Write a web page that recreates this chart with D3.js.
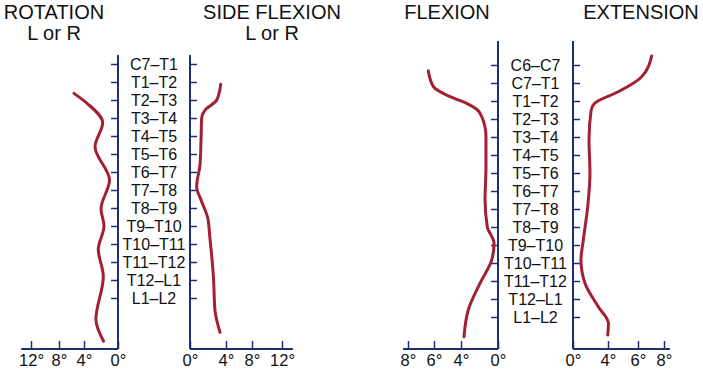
<!DOCTYPE html>
<html>
<head>
<meta charset="utf-8">
<script src="https://cdn.jsdelivr.net/npm/d3@7"></script>
<style>
  html, body { margin: 0; padding: 0; background: #fff; }
  svg { display: block; font-family: "Liberation Sans", Arial, Helvetica, sans-serif; }
</style>
</head>
<body>
<svg id="chart" width="703" height="370"></svg>
<script>
// ---------- DATA ----------
const levelsLeft = ["C7–T1","T1–T2","T2–T3","T3–T4","T4–T5","T5–T6","T6–T7","T7–T8","T8–T9","T9–T10","T10–T11","T11–T12","T12–L1","L1–L2"];
const levelsRight = ["C6–C7","C7–T1","T1–T2","T2–T3","T3–T4","T4–T5","T5–T6","T6–T7","T7–T8","T8–T9","T9–T10","T10–T11","T11–T12","T12–L1","L1–L2"];

const ticksLeftPanel = [0, 4, 8, 12];
const ticksRightPanel = [0, 4, 6, 8];
const tickLabelsLeftPanel = ["0°", "4°", "8°", "12°"];
const tickLabelsRightPanel = ["0°", "4°", "6°", "8°"];

// [level position (0 = first level label), degrees]
const rotation = [[1.63,5.6],[2.2,3.6],[3.25,1.8],[4.6,2.7],[6.45,1.0],[8.05,2.0],[9.0,1.65],[10.3,2.32],[11.8,1.73],[14.2,2.6],[15.4,1.7]];
const sideFlexion = [[1.13,3.41],[2.0,2.97],[2.56,1.67],[3.0,1.3],[4.3,1.22],[5.6,1.11],[6.8,0.74],[7.65,1.3],[8.55,1.97],[9.6,2.2],[11.8,2.6],[13.7,2.78],[14.9,3.33]];
const flexion = [[0.32,6.44],[1.2,6.05],[1.76,4.81],[2.13,3.39],[2.46,2.3],[2.87,1.76],[3.43,1.41],[3.98,1.3],[5.65,1.3],[7.5,1.4],[8.98,1.16],[9.9,0.43],[10.83,0.68],[12.13,1.95],[13.6,3.21],[15.1,3.68]];
const extension = [[-0.5,7.05],[0.65,6.28],[1.57,4.47],[1.99,2.9],[2.17,2.4],[2.55,2.06],[4.17,1.83],[6.02,1.94],[7.87,1.68],[9.72,1.18],[10.83,0.91],[12.13,1.37],[13.43,2.89],[14.35,4.03],[15.0,3.97]];

// ---------- LAYOUT ----------
const navy = "#1f2d74";
const red = "#a31f33";
const svg = d3.select("#chart");
svg.append("rect").attr("width", 703).attr("height", 370).attr("fill", "#fff");

const baseY = 349;

function panel(cfg) {
  const g = svg.append("g");
  const y = d3.scaleLinear().domain([0, cfg.levels.length - 1]).range(cfg.yRange);
  const xL = d3.scaleLinear().domain(cfg.ticks).range(cfg.xLeftRange);
  const xR = d3.scaleLinear().domain(cfg.ticks).range(cfg.xRightRange);
  const axL = xL(0), axR = xR(0);

  // vertical axes
  g.append("line").attr("x1", axL).attr("x2", axL).attr("y1", y(cfg.topIdx)).attr("y2", baseY)
    .attr("stroke", navy).attr("stroke-width", 2);
  g.append("line").attr("x1", axR).attr("x2", axR).attr("y1", y(cfg.topIdx)).attr("y2", baseY)
    .attr("stroke", navy).attr("stroke-width", 2);

  // level ticks
  const idx = d3.range(cfg.levels.length);
  const la = g.append("g").attr("transform", `translate(${axL},0)`).attr("color", navy)
    .call(d3.axisLeft(y).tickValues(idx).tickSize(7).tickFormat(""));
  la.select(".domain").remove();
  la.selectAll("line").attr("stroke-width", 1.5);
  const ra = g.append("g").attr("transform", `translate(${axR},0)`).attr("color", navy)
    .call(d3.axisRight(y).tickValues(idx).tickSize(7).tickFormat(""));
  ra.select(".domain").remove();
  ra.selectAll("line").attr("stroke-width", 1.5);

  // level labels
  g.selectAll("text.lvl").data(cfg.levels).join("text").attr("class", "lvl")
    .attr("x", (axL + axR) / 2).attr("y", (d, i) => y(i)).attr("dy", "0.36em")
    .attr("text-anchor", "middle").attr("font-size", 16).attr("fill", "#111")
    .text(d => d);

  // bottom axes
  [[xL, cfg.extL], [xR, cfg.extR]].forEach(([x, ext]) => {
    g.append("line").attr("x1", x(0)).attr("x2", x(ext)).attr("y1", baseY).attr("y2", baseY)
      .attr("stroke", navy).attr("stroke-width", 2);
    const ba = g.append("g").attr("transform", `translate(0,${baseY})`).attr("color", navy)
      .call(d3.axisBottom(x).tickValues(cfg.ticks).tickSize(-8).tickPadding(5)
        .tickFormat((d, i) => cfg.tickLabels[i]));
    ba.select(".domain").remove();
    ba.selectAll("line").attr("stroke-width", 1.5);
    ba.selectAll("text").attr("fill", "#111").attr("font-size", 16.5)
      .attr("font-family", "Liberation Sans, Arial, sans-serif");
  });

  // curves
  const lineL = d3.line().x(d => xL(d[1])).y(d => y(d[0])).curve(d3.curveMonotoneY);
  const lineR = d3.line().x(d => xR(d[1])).y(d => y(d[0])).curve(d3.curveMonotoneY);
  g.append("path").attr("d", lineL(cfg.leftData)).attr("fill", "none")
    .attr("stroke", red).attr("stroke-width", 3).attr("stroke-linecap", "round");
  g.append("path").attr("d", lineR(cfg.rightData)).attr("fill", "none")
    .attr("stroke", red).attr("stroke-width", 3).attr("stroke-linecap", "round");

  // titles
  cfg.titles.forEach(t => {
    t.lines.forEach((s, i) => {
      g.append("text").attr("x", t.x).attr("y", 18.5 + i * 21.5).attr("text-anchor", "middle")
        .attr("font-size", 20).attr("fill", "#111").text(s);
    });
  });
}

panel({
  levels: levelsLeft,
  yRange: [64, 298],
  topIdx: -0.5,
  ticks: ticksLeftPanel,
  tickLabels: tickLabelsLeftPanel,
  xLeftRange: [118, 84, 59, 31],
  xRightRange: [190, 226, 252, 282],
  extL: 13.4, extR: 13.45,
  leftData: rotation,
  rightData: sideFlexion,
  titles: [{x: 54, lines: ["ROTATION", "L or R"]}, {x: 272, lines: ["SIDE FLEXION", "L or R"]}]
});

panel({
  levels: levelsRight,
  yRange: [65, 317],
  topIdx: -1.33,
  ticks: ticksRightPanel,
  tickLabels: tickLabelsRightPanel,
  xLeftRange: [498, 461, 434, 408],
  xRightRange: [573, 608, 638, 664],
  extL: 8.38, extR: 8.46,
  leftData: flexion,
  rightData: extension,
  titles: [{x: 447, lines: ["FLEXION"]}, {x: 641, lines: ["EXTENSION"]}]
});
</script>
</body>
</html>
